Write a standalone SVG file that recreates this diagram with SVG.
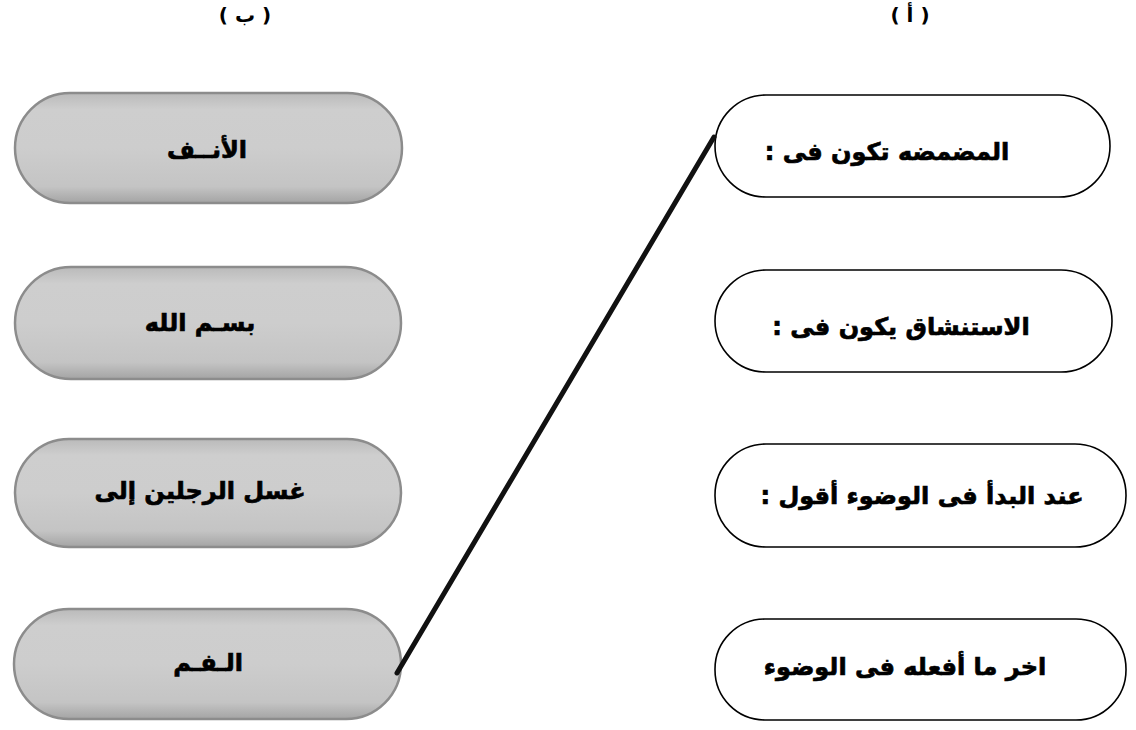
<svg xmlns="http://www.w3.org/2000/svg" width="1136" height="730" viewBox="0 0 1136 730">
<style>
.lab{font-family:"DejaVu Sans","Liberation Sans",sans-serif;font-weight:bold;font-size:24px;fill:#000;stroke:#000;stroke-width:0.7;text-anchor:middle;direction:rtl}
.hdr{font-family:"DejaVu Sans","Liberation Sans",sans-serif;font-weight:bold;font-size:20px;fill:#000;text-anchor:middle}
.pill{fill:url(#gray);stroke:#8c8c8c;stroke-width:2.5}
.oval{fill:#fff;stroke:#000;stroke-width:1.6}
.conn{stroke:#111;stroke-width:5;stroke-linecap:round;fill:none}
</style>
<defs>
<linearGradient id="gray" x1="0" y1="0" x2="0" y2="1">
<stop offset="0" stop-color="#bababa"/>
<stop offset="0.15" stop-color="#cecece"/>
<stop offset="0.5" stop-color="#cdcdcd"/>
<stop offset="0.85" stop-color="#c4c4c4"/>
<stop offset="1" stop-color="#a4a4a4"/>
</linearGradient>
</defs>
<rect width="1136" height="730" fill="#fff"/>
<g id="headers">
<text class="hdr" x="245" y="22">( ب )</text>
<text class="hdr" x="910" y="22">( أ )</text>
</g>
<g id="nodeB1"><rect class="pill" x="15" y="93" width="387" height="110" rx="55"/><text class="lab" x="207" y="158">الأنــف</text></g>
<g id="nodeB2"><rect class="pill" x="15" y="267" width="386" height="112" rx="56"/><text class="lab" x="200" y="331">بسـم الله</text></g>
<g id="nodeB3"><rect class="pill" x="15" y="439" width="386" height="108" rx="54"/><text class="lab" x="200" y="499">غسل الرجلين إلى</text></g>
<g id="nodeB4"><rect class="pill" x="14" y="609" width="387" height="110" rx="55"/><text class="lab" x="208" y="671">الـفـم</text></g>
<g id="nodeA1"><rect class="oval" x="715" y="95" width="395" height="102" rx="51"/><text class="lab" x="887" y="160">المضمضه تكون فى :</text></g>
<g id="nodeA2"><rect class="oval" x="715" y="270" width="397" height="102" rx="51"/><text class="lab" x="901" y="335">الاستنشاق يكون فى :</text></g>
<g id="nodeA3"><rect class="oval" x="715" y="444" width="411" height="103" rx="51"/><text class="lab" x="922" y="504">عند البدأ فى الوضوء أقول :</text></g>
<g id="nodeA4"><rect class="oval" x="715" y="619" width="411" height="101" rx="50"/><text class="lab" x="905" y="675">اخر ما أفعله فى الوضوء</text></g>
<g id="connectors">
<line class="conn" x1="714" y1="137" x2="397" y2="673"/>
</g>
</svg>
